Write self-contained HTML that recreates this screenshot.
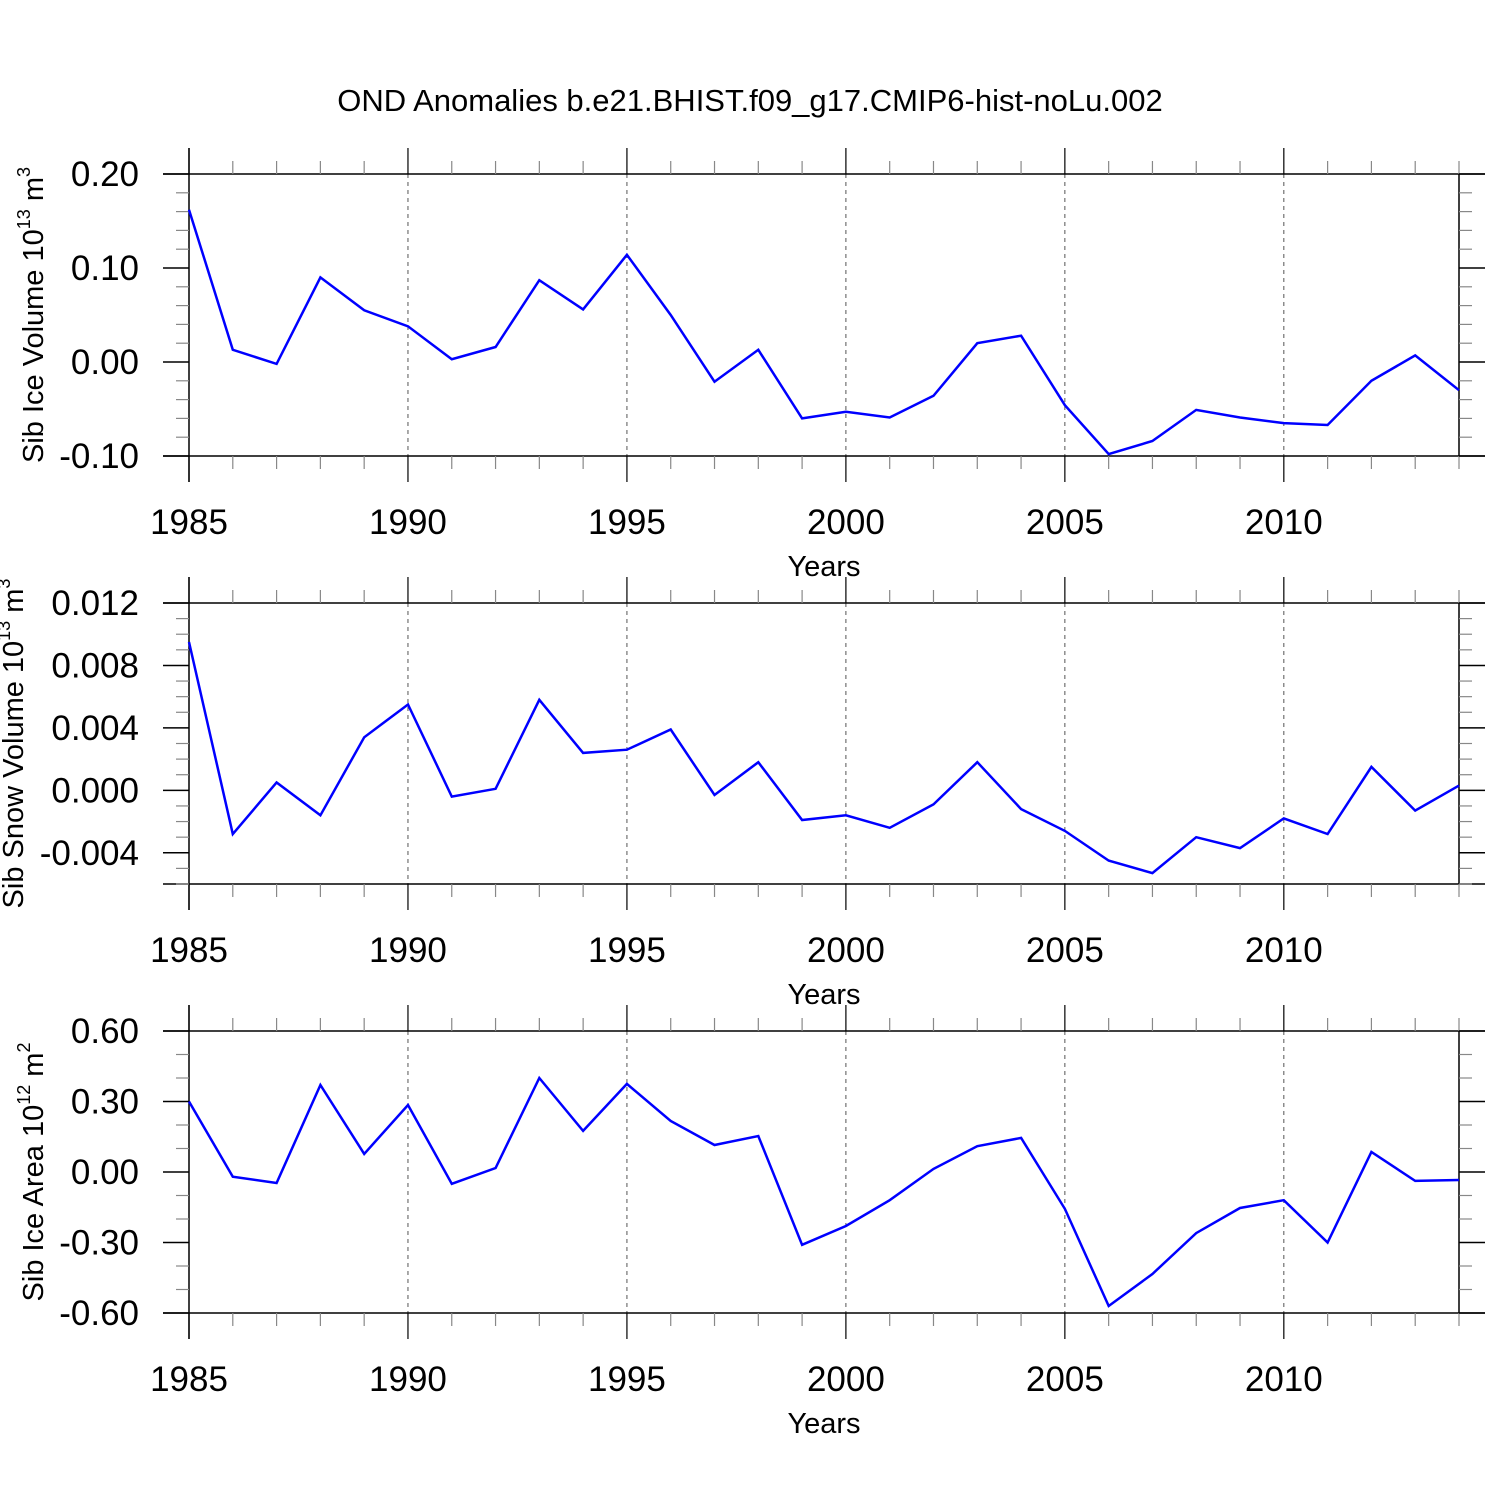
<!DOCTYPE html>
<html><head><meta charset="utf-8">
<style>body{margin:0;background:#fff}svg{display:block;font-family:"Liberation Sans",sans-serif}</style>
</head><body>
<svg id="c" width="1500" height="1500" xmlns="http://www.w3.org/2000/svg">
<text x="750" y="111" font-size="31" text-anchor="middle">OND Anomalies b.e21.BHIST.f09_g17.CMIP6-hist-noLu.002</text>
</svg>
<script>
const years = [1985,1986,1987,1988,1989,1990,1991,1992,1993,1994,1995,1996,1997,1998,1999,2000,2001,2002,2003,2004,2005,2006,2007,2008,2009,2010,2011,2012,2013,2014];
const iceVolume = [0.162,0.013,-0.002,0.090,0.055,0.038,0.003,0.016,0.087,0.056,0.114,0.050,-0.021,0.013,-0.060,-0.053,-0.059,-0.036,0.020,0.028,-0.046,-0.098,-0.084,-0.051,-0.059,-0.065,-0.067,-0.020,0.007,-0.030];
const snowVolume = [0.0095,-0.0028,0.0005,-0.0016,0.0034,0.0055,-0.0004,0.0001,0.0058,0.0024,0.0026,0.0039,-0.0003,0.0018,-0.0019,-0.0016,-0.0024,-0.0009,0.0018,-0.0012,-0.0026,-0.0045,-0.0053,-0.0030,-0.0037,-0.0018,-0.0028,0.0015,-0.0013,0.0003];
const iceArea = [0.30,-0.02,-0.047,0.37,0.077,0.285,-0.05,0.017,0.40,0.175,0.375,0.217,0.115,0.153,-0.31,-0.23,-0.12,0.013,0.11,0.145,-0.157,-0.57,-0.434,-0.26,-0.153,-0.12,-0.30,0.085,-0.038,-0.034];
const xTickLabels = ["1985","1990","1995","2000","2005","2010"];
const iceVolTicks = ["0.20","0.10","0.00","-0.10"];
const snowTicks = ["0.012","0.008","0.004","0.000","-0.004"];
const areaTicks = ["0.60","0.30","0.00","-0.30","-0.60"];

const svg = document.getElementById('c');
const NS = 'http://www.w3.org/2000/svg';
function el(tag, attrs, parent){const e=document.createElementNS(NS,tag);for(const k in attrs)e.setAttribute(k,attrs[k]);(parent||svg).appendChild(e);return e;}
const X0=189, X1=1459;
const xs = y => X0 + (y-1985)*(X1-X0)/(2014-1985);

function panel(name, top, bot, ymax, ymin, majorStep, minorStep, ticks, data, titleParts, titleX){
  const g = el('g',{});
  
  
  const ys = v => top + (ymax-v)*(bot-top)/(ymax-ymin);
  const line=(x1,y1,x2,y2,c,w,extra)=>{const l=el('line',Object.assign({x1,y1,x2,y2,stroke:c,'stroke-width':w},extra||{}),g);return l;};
  for(let y=1990;y<=2010;y+=5){ const l=line(xs(y),top,xs(y),bot,'#555',1,{'stroke-dasharray':'4,4'});   }
  line(163,top,1485,top,'#000',1.5); line(163,bot,1485,bot,'#000',1.5);
  line(X0,top-26,X0,bot+26,'#000',1.5); line(X1,top,X1,bot,'#000',1.5);
  for(let y=1985;y<=2014;y++){
    const x=xs(y), maj=(y%5===0);
    line(x,top,x,top-(maj?26:13),maj?'#000':'#888',1.2);
    line(x,bot,x,bot+(maj?26:13),maj?'#000':'#888',1.2);
  }
  xTickLabels.forEach(t=>{const tx=el('text',{x:xs(+t),y:bot+78,'font-size':35,'text-anchor':'middle'},g);tx.textContent=t;
     });
  const xt=el('text',{x:824,y:bot+120,'font-size':29,'text-anchor':'middle'},g); xt.textContent='Years';
   
  const nMin=Math.round((ymax-ymin)/minorStep);
  for(let i=0;i<=nMin;i++){
    const v=ymax-i*minorStep, y=ys(v);
    const r=Math.abs(v/majorStep-Math.round(v/majorStep))<1e-6;
    if(r){ line(163,y,X0,y,'#000',1.5); line(X1,y,1485,y,'#000',1.5); }
    else { line(176,y,X0,y,'#888',1.2); line(X1,y,1472,y,'#888',1.2); }
  }
  ticks.forEach(t=>{const tx=el('text',{x:139,y:ys(parseFloat(t))+12,'font-size':35,'text-anchor':'end'},g);tx.textContent=t;
     });
  const cy=(top+bot)/2;
  const yt=el('text',{x:0,y:0,'font-size':29,'text-anchor':'middle',transform:`translate(${titleX},${cy}) rotate(-90)`},g);
   
  const t1=el('tspan',{},yt); t1.textContent=titleParts[0];
  const t2=el('tspan',{dy:-13,'font-size':18},yt); t2.textContent=titleParts[1];
  const t3=el('tspan',{dy:13},yt); t3.textContent=' m';
  const t4=el('tspan',{dy:-13,'font-size':18},yt); t4.textContent=titleParts[2];
  const pts=data.map((v,i)=>xs(years[i]).toFixed(1)+','+ys(v).toFixed(1)).join(' ');
  const pl=el('polyline',{points:pts,fill:'none',stroke:'#0000ff','stroke-width':2.5,'stroke-linejoin':'miter'},g);
   
}
panel('ice-volume',174,456,0.20,-0.10,0.10,0.02,iceVolTicks,iceVolume,['Sib Ice Volume 10','13','3'],43);
panel('snow-volume',603,884,0.012,-0.006,0.004,0.001,snowTicks,snowVolume,['Sib Snow Volume 10','13','3'],23);
panel('ice-area',1031,1313,0.60,-0.60,0.30,0.10,areaTicks,iceArea,['Sib Ice Area 10','12','2'],43);
</script>
</body></html>
